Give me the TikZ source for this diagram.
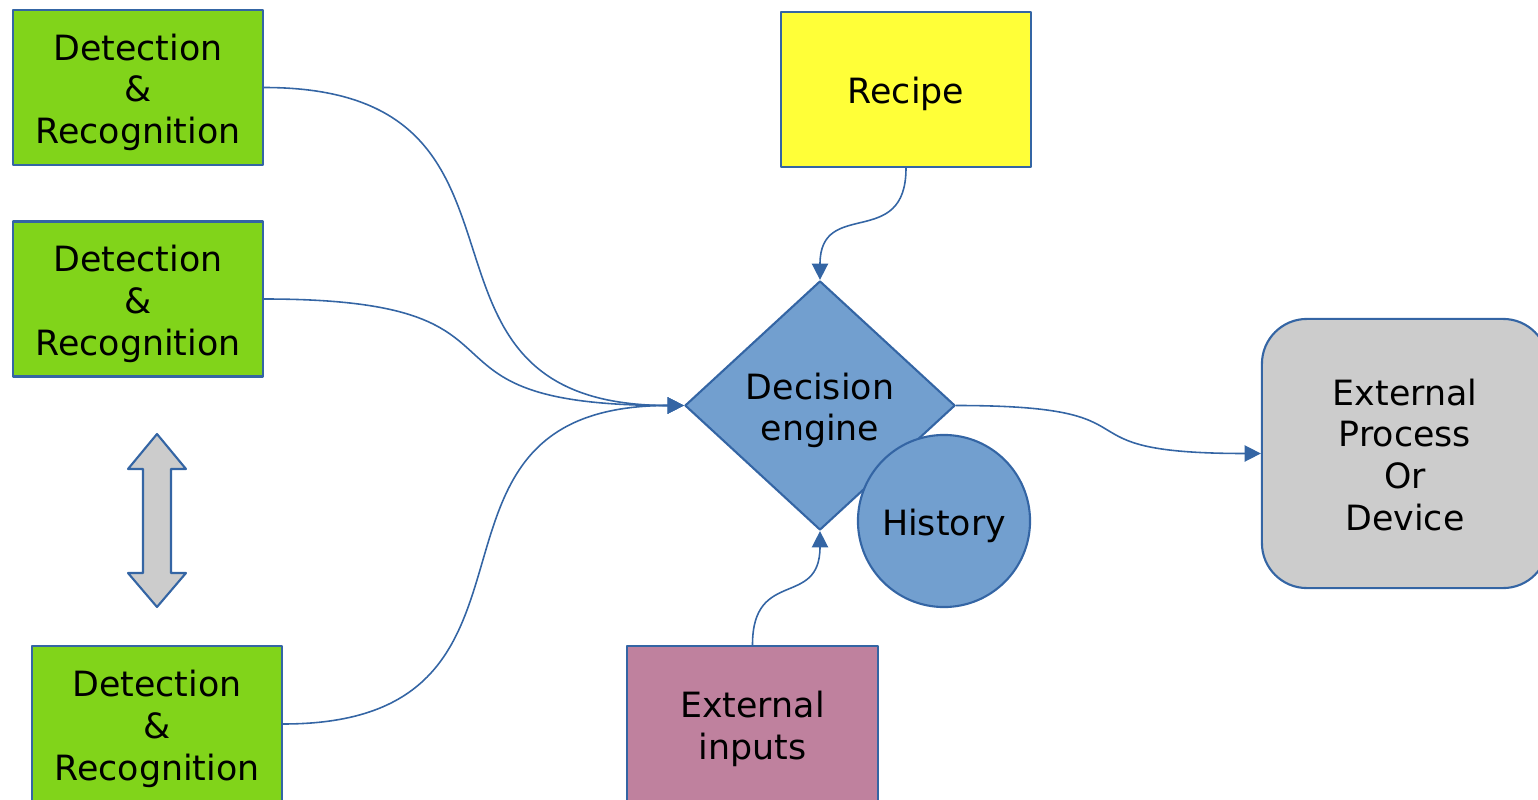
\documentclass[tikz,border=0pt]{standalone}
\usepackage{fontspec}
\setmainfont{DejaVu Sans}
\usepackage{tikz}
\usetikzlibrary{arrows.meta}
\usetikzlibrary{shapes.geometric}

\definecolor{boxgreen}{RGB}{129,212,26}
\definecolor{boxyellow}{RGB}{255,255,56}
\definecolor{boxpink}{RGB}{191,129,158}
\definecolor{boxblue}{RGB}{114,159,207}
\definecolor{boxgray}{RGB}{204,204,204}
\definecolor{edgeblue}{RGB}{52,101,164}

\newcommand{\topline}{\rule{0pt}{10.3pt}}
\newcommand{\botline}{\rule[-2.2pt]{0pt}{0pt}}

\begin{document}
\begin{tikzpicture}[line cap=round,line join=round,>={Triangle[length=4.6pt,width=4.6pt]},x=0.01cm,y=-0.01cm,
    font=\fontsize{9.9}{11.85}\selectfont,
    box/.style={draw=edgeblue, line width=0.6pt, align=center, inner sep=0pt, minimum width=2.5cm, minimum height=1.55cm},
    flow/.style={draw=edgeblue, line width=0.45pt, ->}]
                        \useasboundingbox (0,0) rectangle (1538,800);

                        \node[box, fill=boxgreen] (det1) at (138,87.5) {\topline Detection\\\&\\Recognition};
                        \node[box, fill=boxgreen] (det2) at (138,299) {\topline Detection\\\&\\Recognition};
                        \node[box, fill=boxgreen, minimum height=1.56cm] (det3) at (157,724) {\topline Detection\\\&\\Recognition};

                        \node[box, fill=boxyellow] (recipe) at (906,89.5) {\topline Recipe};
                        \node[box, fill=boxpink, minimum height=1.56cm] (inputs) at (752.5,724) {\topline External\\inputs};

                        \node[diamond, draw=edgeblue, line width=0.6pt, fill=boxblue, align=center, inner sep=0pt, aspect=1.08, minimum width=2.7cm, minimum height=2.49cm] (engine) at (820,405.5) {\topline Decision\\engine};
                        \node[circle, draw=edgeblue, line width=0.6pt, fill=boxblue, inner sep=0pt, minimum size=1.72cm] (history) at (944,521) {\topline History};

                        \node[box, fill=boxgray, rounded corners=0.45cm, minimum width=2.86cm, minimum height=2.69cm] (device) at (1405,453.5) {\topline External\\Process\\Or\\Device\botline};

                        % the double arrow between the detectors
                        \draw[draw=edgeblue, line width=0.6pt, fill=boxgray] (157,434) -- (186,469) -- (171,469) -- (171,573) -- (186,573) -- (157,607) -- (128,573) -- (143,573) -- (143,469) -- (128,469) -- cycle;

                        \draw[flow] (det1.east) to[out=0,in=180,looseness=1.5] (engine.west);
                        \draw[flow] (det2.east) to[out=0,in=180,looseness=1.75] (engine.west);
                        \draw[flow] (det3.east) to[out=0,in=180,looseness=1.5] (engine.west);
                        \draw[flow] (recipe.south) to[out=-90,in=90,looseness=1.5] (engine.north);
                        \draw[flow] (inputs.north) to[out=90,in=-90,looseness=1.5] (engine.south);
                        \draw[flow] (engine.east) to[out=0,in=180,looseness=1.8] (device.west);
                    \end{tikzpicture}
\end{document}
